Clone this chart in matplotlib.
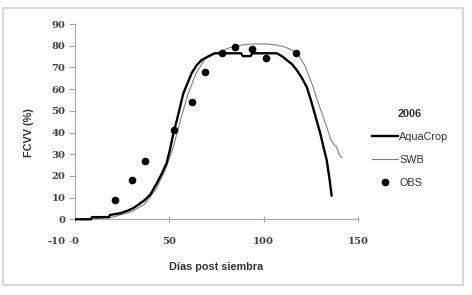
import numpy as np
import matplotlib
matplotlib.use('Agg')
import matplotlib.pyplot as plt
from matplotlib.patches import Rectangle

plt.rcParams['axes.unicode_minus'] = False

# AquaCrop simulated canopy cover
aqua_dias = [0, 8.5, 9, 18, 18.5, 24, 28, 31, 34, 37, 40, 43.4, 46, 48.6, 50.3, 52.5,
             54, 57.4, 61.8, 64.5, 67.1, 70.5, 74, 76, 88, 89, 93, 94, 107, 110, 112.2,
             115, 117.5, 120, 122.8, 125, 128, 130, 131.8, 133.4, 135, 136]
aqua_fcvv = [0, 0, 1, 1, 2, 2.8, 4, 5.2, 7, 8.9, 11.5, 16.7, 21, 26, 32, 41,
             45.7, 58, 67.3, 71, 73.4, 75, 76.5, 76.5, 76.5, 75.2, 75.2, 76.5, 76.5, 75, 73.4,
             71.5, 68.8, 65.5, 61.1, 55, 45.8, 39.6, 33, 27.3, 18, 11]

# SWB simulated canopy cover
swb_dias = [0, 10, 20, 30, 37, 43, 48, 52, 56, 60, 64, 69, 73, 77, 81, 85, 90, 95,
            101, 107, 111, 115, 119, 122, 124, 126, 128, 130, 132, 134, 135.5, 136.5,
            137.5, 138.5, 139.5, 140.5, 141.5]
swb_fcvv = [0, 0.3, 1, 3.5, 7, 14, 23, 33, 46, 58, 67, 74, 76, 77.2, 78.8, 79.8, 80.5, 80.8,
            80.8, 80.3, 79.5, 78, 75, 70.5, 66, 61.5, 56, 51, 46, 41, 37, 35.5,
            34, 33.5, 31.2, 29, 28.5]

# observations
obs_dias = [21, 30, 37, 52.5, 62, 69, 78, 85, 94, 101, 117]
obs_fcvv = [9, 18, 27, 41, 54, 68, 76.5, 79.5, 78.3, 74.5, 76.5]

W, H = 472, 295
fig = plt.figure(figsize=(W/100, H/100), dpi=100)
ax = fig.add_axes([75/W, 1-241/H, (358-75)/W, (241-24)/H])

ax.plot(aqua_dias, aqua_fcvv, color='black', lw=1.7, label='AquaCrop', zorder=4)
ax.plot(swb_dias, swb_fcvv, color='#808080', lw=0.8, label='SWB', zorder=3)
ax.plot(obs_dias, obs_fcvv, 'o', color='black', ms=4.5, label='OBS', zorder=5)

ax.set_xlim(0, 150)
ax.set_ylim(-10, 90)
ax.set_xticks([0, 50, 100, 150])
ax.set_yticks(np.arange(-10, 91, 10))

for s in ['top', 'right']:
    ax.spines[s].set_visible(False)
ax.spines['bottom'].set_position(('data', 0))
ax.spines['left'].set_bounds(0, 90)
for s in ['bottom', 'left']:
    ax.spines[s].set_color('#a6a6a6')
    ax.spines[s].set_linewidth(0.8)

tickfont = {'family': 'DejaVu Serif', 'weight': 'bold', 'size': 7.2}
ax.tick_params(axis='y', direction='out', length=4, width=0.8, color='#a6a6a6',
               pad=3, labelcolor='#404040')
ax.tick_params(axis='x', direction='inout', length=4, width=0.8, color='#a6a6a6',
               pad=11, labelcolor='#404040')
for lbl in ax.get_xticklabels() + ax.get_yticklabels():
    lbl.set_fontproperties(tickfont)

fig.text(29/W, 1-133/H, 'FCVV (%)', rotation=90, ha='center', va='center',
         family='Liberation Sans', weight='bold', size=7.8, color='#333333')
fig.text(216/W, 1-267/H, 'Días post siembra', ha='center', va='center',
         family='Liberation Sans', weight='bold', size=7.8, color='#333333')

leg = fig.legend(loc='upper left', bbox_to_anchor=(362/W, 1-99/H), frameon=False,
                 title='2006', numpoints=1, handlelength=2.4, handletextpad=0.15,
                 labelspacing=1.2, prop={'family': 'Liberation Sans', 'size': 7.8},
                 title_fontproperties={'family': 'Liberation Sans', 'weight': 'bold',
                                       'size': 7.8})
leg._legend_box.align = 'center'
for t in leg.get_texts():
    t.set_color('#333333')
leg.get_title().set_color('#333333')

fig.patches.append(Rectangle((3/W, 1-285/H), (463-3)/W, (285-8)/H,
                             transform=fig.transFigure, fill=False,
                             ec='#d9d9d9', lw=1.5))

fig.savefig('out.png', dpi=100)
